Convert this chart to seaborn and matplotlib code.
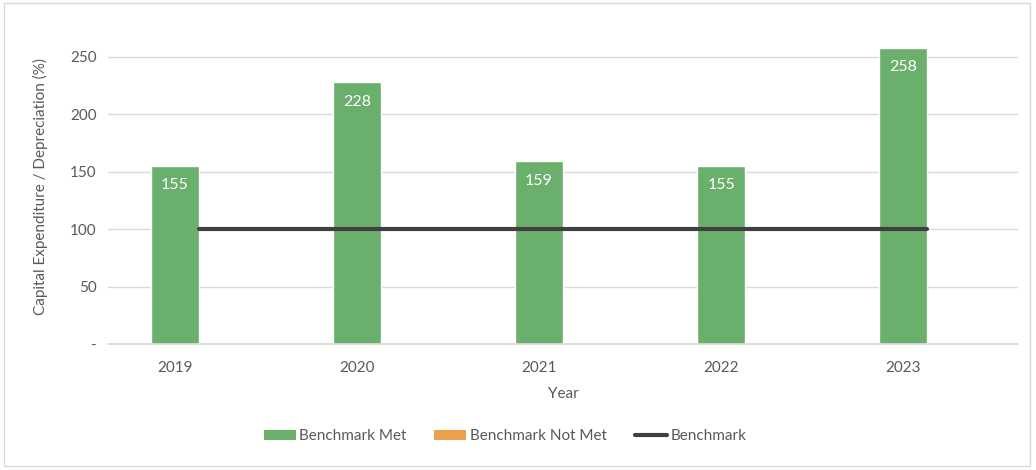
import matplotlib
matplotlib.use("Agg")
import matplotlib.pyplot as plt
import seaborn as sns
import pandas as pd
from matplotlib.patches import Patch, Rectangle
from matplotlib.lines import Line2D

years = ["2019", "2020", "2021", "2022", "2023"]
met_values = [155, 228, 159, 155, 258]
not_met_values = [0, 0, 0, 0, 0]
benchmark = [100, 100, 100, 100, 100]
yticks = [0, 50, 100, 150, 200, 250]
ytick_labels = ["-", "50", "100", "150", "200", "250"]

GREEN = "#6BAF6C"
ORANGE = "#EE9F4E"
LINE = "#404040"
TXT = "#595959"

sns.set_theme(style="white")
plt.rcParams["font.family"] = ["Lato", "DejaVu Sans"]

df = pd.DataFrame({
    "Year": years * 2,
    "Value": met_values + not_met_values,
    "Status": ["Benchmark Met"] * 5 + ["Benchmark Not Met"] * 5,
})

fig = plt.figure(figsize=(10.36, 4.70), dpi=100)
ax = fig.add_axes([0.104, 0.268, 0.879, 0.672])

sns.barplot(data=df, x="Year", y="Value", hue="Status",
            hue_order=["Benchmark Met", "Benchmark Not Met"],
            palette=[GREEN, ORANGE], dodge=True, width=0.527,
            saturation=1, ax=ax, legend=False)

met_container = ax.containers[0]
ax.bar_label(met_container, labels=[str(v) for v in met_values],
             padding=-19, color="white", fontsize=11.5)

half = 0.527 / 4
xs = [i for i in range(len(years))]
sns.lineplot(x=xs, y=benchmark, color=LINE, linewidth=3, ax=ax,
             solid_capstyle="round")

ax.set_xlim(-0.5, len(years) - 0.5)
ax.set_ylim(0, 275)
ax.set_yticks(yticks)
ax.set_yticklabels(ytick_labels)
ax.set_xticks([i - half for i in range(len(years))])
ax.set_xticklabels(years)
ax.tick_params(axis="y", colors=TXT, labelsize=11, length=0, pad=8)
ax.tick_params(axis="x", colors=TXT, labelsize=11, length=0, pad=12)
ax.yaxis.grid(True, color="#D9D9D9", linewidth=1)
ax.set_axisbelow(True)
for s in ["top", "right", "left"]:
    ax.spines[s].set_visible(False)
ax.spines["bottom"].set_color("#D9D9D9")
ax.set_xlabel("Year", color=TXT, fontsize=11, labelpad=9)
ax.set_ylabel("Capital Expenditure / Depreciation (%)", color=TXT, fontsize=11, labelpad=16)

handles = [
    Patch(facecolor=GREEN, edgecolor="none", label="Benchmark Met"),
    Patch(facecolor=ORANGE, edgecolor="none", label="Benchmark Not Met"),
    Line2D([0], [0], color=LINE, linewidth=3, solid_capstyle="round", label="Benchmark"),
]
leg = fig.legend(handles=handles, loc="center", bbox_to_anchor=(0.4875, 0.072),
                 ncol=3, frameon=False, fontsize=11, handlelength=2.1,
                 handleheight=0.6, handletextpad=0.25, columnspacing=1.8)
for t in leg.get_texts():
    t.set_color(TXT)

fig.patches.append(Rectangle((0.004, 0.008), 0.99, 0.985, transform=fig.transFigure,
                             fill=False, edgecolor="#D9D9D9", linewidth=1))

fig.savefig("out.png", dpi=100)
